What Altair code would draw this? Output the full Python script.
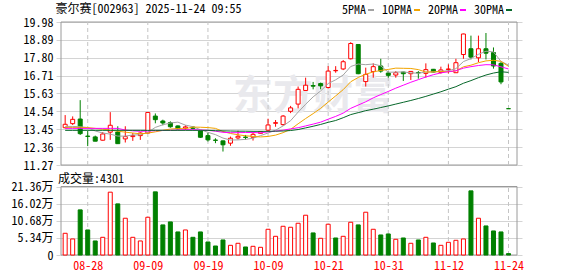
import json
import altair as alt
import pandas as pd

# ---------------- data ----------------
dates = ["08-25", "08-26", "08-27", "08-28", "08-29", "09-01", "09-02", "09-03", "09-04", "09-05",
         "09-08", "09-09", "09-10", "09-11", "09-12", "09-15", "09-16", "09-17", "09-18", "09-19",
         "09-22", "09-23", "09-24", "09-25", "09-26", "09-29", "09-30", "10-09", "10-10", "10-13",
         "10-14", "10-15", "10-16", "10-17", "10-20", "10-21", "10-22", "10-23", "10-24", "10-27",
         "10-28", "10-29", "10-30", "10-31", "11-03", "11-04", "11-05", "11-06", "11-07", "11-10",
         "11-11", "11-12", "11-13", "11-14", "11-17", "11-18", "11-19", "11-20", "11-21", "11-24"]

opens = [13.54, 13.79, 14.07, 13.03, 12.98, 12.78, 13.27, 13.28, 12.86, 13.00,
         13.06, 13.22, 14.25, 13.95, 13.85, 13.65, 13.52, 13.58, 13.34, 13.06,
         12.79, 12.74, 12.60, 12.92, 12.97, 12.96, 13.20, 13.39, 13.81, 13.73,
         14.54, 14.98, 15.81, 16.11, 16.23, 15.99, 17.01, 17.12, 17.74, 18.61,
         16.35, 16.96, 17.30, 16.87, 16.75, 16.93, 16.83, 16.90, 16.85, 17.10,
         16.91, 17.08, 16.89, 18.00, 18.35, 17.80, 18.35, 18.12, 17.46, 14.70]
highs = [14.31, 14.23, 15.22, 13.36, 13.06, 13.28, 14.49, 13.63, 13.63, 13.22,
         13.26, 14.47, 14.41, 14.03, 13.93, 13.68, 13.69, 13.64, 13.39, 13.24,
         12.90, 12.76, 13.00, 13.36, 13.10, 13.24, 13.34, 14.09, 14.01, 14.31,
         14.87, 16.05, 16.59, 16.33, 16.29, 17.29, 17.29, 17.66, 18.75, 18.63,
         17.20, 17.46, 17.74, 16.96, 16.99, 16.95, 16.99, 16.99, 17.46, 17.12,
         17.26, 17.40, 17.74, 19.27, 19.15, 19.15, 19.31, 18.43, 17.54, 14.70]
lows = [13.50, 13.71, 13.10, 12.42, 12.72, 12.76, 12.80, 12.55, 12.64, 12.74,
        12.80, 13.20, 13.81, 13.69, 13.54, 13.44, 13.39, 13.45, 12.92, 12.70,
        12.60, 12.09, 12.44, 12.82, 12.82, 12.76, 13.18, 13.33, 13.60, 13.66,
        14.43, 14.72, 15.81, 15.88, 15.88, 15.93, 16.89, 17.05, 17.70, 16.80,
        16.05, 16.59, 16.89, 16.59, 16.59, 16.39, 16.45, 16.53, 16.59, 16.91,
        16.83, 16.85, 16.89, 17.74, 17.70, 17.54, 17.70, 17.14, 16.19, 14.70]
closes = [13.75, 14.05, 13.18, 13.01, 12.72, 13.16, 13.69, 12.57, 13.00, 13.06,
          13.22, 14.47, 14.03, 13.83, 13.60, 13.47, 13.59, 13.50, 12.96, 12.80,
          12.77, 12.50, 12.90, 13.02, 12.95, 13.14, 13.30, 13.71, 13.85, 14.25,
          14.75, 15.88, 16.13, 16.07, 16.09, 16.99, 17.03, 17.56, 18.67, 16.83,
          16.79, 17.26, 16.99, 16.73, 16.89, 16.83, 16.97, 16.88, 17.08, 16.93,
          17.06, 17.12, 17.50, 19.25, 17.84, 18.35, 18.08, 17.30, 16.33, 14.70]

# volume in 万 (10k shares); r = red (up) bar, g = green (down) bar
volumes = [6.77, 5.00, 14.07, 7.81, 4.38, 5.52, 19.59, 15.94, 11.46, 5.52,
           4.38, 11.77, 19.69, 9.38, 10.31, 7.19, 7.81, 5.52, 7.19, 4.06,
           2.81, 4.69, 3.02, 3.65, 2.50, 2.71, 2.40, 8.02, 5.83, 8.96,
           8.65, 9.90, 12.40, 6.88, 5.21, 9.59, 5.31, 5.83, 10.21, 9.38,
           13.34, 8.02, 6.25, 6.56, 4.90, 5.31, 3.65, 4.69, 5.52, 3.75,
           3.02, 3.96, 4.58, 5.00, 20.00, 11.46, 9.06, 7.50, 7.19, 0.43]
vol_colors = list("rrgggrrgrr" "rrggggrggg" "ggrrgrrrrr" "rrrgrrgrrg" "rrggrgrgrg" "rrrrgrgggg")

ma5 = [13.62, 13.62, 13.60, 13.55, 13.34, 13.22, 13.15, 13.03, 13.03, 13.10,
       13.11, 13.26, 13.56, 13.72, 13.83, 13.88, 13.70, 13.60, 13.42, 13.26,
       13.12, 12.91, 12.79, 12.80, 12.83, 12.90, 13.06, 13.22, 13.39, 13.65,
       13.97, 14.49, 14.97, 15.42, 15.78, 16.23, 16.46, 16.75, 17.27, 17.42,
       17.38, 17.42, 17.31, 16.92, 16.93, 16.94, 16.88, 16.86, 16.93, 16.94,
       16.98, 17.01, 17.14, 17.57, 17.75, 18.01, 18.20, 18.16, 17.58, 17.35]
ma10 = [13.56, 13.56, 13.56, 13.55, 13.50, 13.45, 13.40, 13.33, 13.27, 13.22,
        13.17, 13.21, 13.29, 13.38, 13.46, 13.49, 13.48, 13.58, 13.57, 13.55,
        13.50, 13.31, 13.19, 13.11, 13.05, 13.01, 12.98, 13.01, 13.09, 13.24,
        13.44, 13.78, 14.10, 14.40, 14.72, 15.10, 15.48, 15.86, 16.34, 16.60,
        16.80, 16.94, 17.03, 17.09, 17.17, 17.16, 17.15, 17.08, 16.93, 16.94,
        16.96, 16.95, 17.00, 17.25, 17.35, 17.50, 17.61, 17.65, 17.58, 17.28]
ma20 = [13.50, 13.50, 13.50, 13.50, 13.50, 13.50, 13.50, 13.50, 13.40, 13.35,
        13.32, 13.34, 13.36, 13.37, 13.38, 13.40, 13.42, 13.42, 13.40, 13.38,
        13.33, 13.26, 13.24, 13.24, 13.25, 13.25, 13.23, 13.29, 13.33, 13.39,
        13.47, 13.54, 13.65, 13.76, 13.88, 14.06, 14.23, 14.43, 14.72, 14.92,
        15.12, 15.36, 15.56, 15.75, 15.95, 16.13, 16.31, 16.47, 16.63, 16.77,
        16.88, 16.95, 17.01, 17.17, 17.26, 17.33, 17.38, 17.37, 17.25, 17.12]
ma30 = [13.38, 13.38, 13.38, 13.38, 13.38, 13.38, 13.38, 13.38, 13.38, 13.38,
        13.38, 13.38, 13.38, 13.38, 13.38, 13.38, 13.38, 13.38, 13.38, 13.38,
        13.36, 13.35, 13.34, 13.33, 13.33, 13.32, 13.32, 13.32, 13.33, 13.34,
        13.37, 13.43, 13.53, 13.63, 13.74, 13.87, 13.98, 14.15, 14.34, 14.46,
        14.58, 14.67, 14.77, 14.87, 14.98, 15.09, 15.20, 15.32, 15.45, 15.59,
        15.73, 15.89, 16.04, 16.25, 16.41, 16.59, 16.75, 16.87, 16.95, 16.91]

ma_names = ["5PMA", "10PMA", "20PMA", "30PMA"]
ma_colors = ["#a3a3a3", "#f2a400", "#ff00ff", "#07672a"]

label_dates = ["08-28", "09-09", "09-19", "10-09", "10-21", "10-31", "11-12", "11-24"]
price_ticks = [11.27, 12.36, 13.45, 14.54, 15.63, 16.71, 17.80, 18.89, 19.98]
vol_ticks = [0, 5.34, 10.68, 16.02, 21.36]

TITLE = "豪尔赛[002963] 2025-11-24 09:55"
VOL_TITLE = "成交量:4301"
WATERMARK = "东方财富"

# ---------------- layout / style constants ----------------
FONT = "Noto Sans Mono CJK SC, Noto Sans CJK SC, monospace"
X_LO, X_HI = -0.555, 60.13
P_LO, P_HI = 11.27, 19.98
V_LO, V_HI = 0, 21.36
W, H = 466, 233
PRICE_RANGE = [143, 0]
VOL_RANGE = [233, 164.5]
RED, GREEN = "#ff0000", "#008000"
FRAME = "#9a9a9a"
GRID = "#d4d4d4"

# ---------------- tables ----------------
idx = list(range(len(dates)))
candles = pd.DataFrame({"idx": idx, "date": dates, "open": opens, "high": highs,
                        "low": lows, "close": closes})
candles["dir"] = ["up" if c > o else "down" for o, c in zip(opens, closes)]

vol_df = pd.DataFrame({"idx": idx, "vol": volumes, "base": 0,
                       "dir": ["up" if v == "r" else "down" for v in vol_colors]})

ma_df = pd.DataFrame({"idx": idx, "5PMA": ma5, "10PMA": ma10, "20PMA": ma20, "30PMA": ma30})
ma_long = ma_df.melt(id_vars="idx", var_name="ma", value_name="value")

label_idx = [dates.index(d) for d in label_dates]
grid_p = pd.DataFrame({"idx": label_idx, "lo": P_LO, "hi": P_HI})
grid_v = pd.DataFrame({"idx": label_idx, "lo": V_LO, "hi": V_HI})
frame_p = pd.DataFrame({"x0": [X_LO], "x1": [X_HI], "y0": [P_LO], "y1": [P_HI]})
frame_v = pd.DataFrame({"x0": [X_LO], "x1": [X_HI], "y0": [V_LO], "y1": [V_HI]})

# ---------------- scales & axes ----------------
x_scale = alt.Scale(domain=[X_LO, X_HI], nice=False, zero=False)
x_axis = alt.Axis(orient="bottom", values=label_idx,
                  labelExpr=json.dumps(dates) + "[datum.value]",
                  grid=False, ticks=False, domain=False, title=None,
                  labelColor=RED, labelFont=FONT, labelFontSize=12, labelPadding=5,
                  labelFlush=False, labelOverlap=False)

p_scale = alt.Scale(domain=[P_LO, P_HI], range=PRICE_RANGE, nice=False, zero=False)
p_axis = alt.Axis(orient="left", values=price_ticks, format=".2f",
                  grid=True, gridColor=GRID, ticks=False, domain=False,
                  labelFont=FONT, labelFontSize=12, labelColor="#000", labelPadding=3,
                  labelOverlap=False,
                  title=TITLE, titleAngle=0, titleX=-1, titleY=-13.5, titleAlign="left",
                  titleBaseline="middle", titleFont=FONT, titleFontSize=12,
                  titleFontWeight="normal", titleColor="#000")

v_scale = alt.Scale(domain=[V_LO, V_HI], range=VOL_RANGE, nice=False, zero=False)
v_axis = alt.Axis(orient="left", values=vol_ticks,
                  labelExpr="datum.value == 0 ? '0' : format(datum.value, '.2f') + '万'",
                  grid=True, gridColor=GRID, ticks=False, domain=False,
                  labelFont=FONT, labelFontSize=12, labelColor="#000", labelPadding=3,
                  labelOverlap=False,
                  title=VOL_TITLE, titleAngle=0, titleX=1.5, titleY=156, titleAlign="left",
                  titleBaseline="middle", titleFont=FONT, titleFontSize=12,
                  titleFontWeight="normal", titleColor="#000")

dir_stroke = alt.Stroke("dir:N", scale=alt.Scale(domain=["up", "down"], range=[RED, GREEN]), legend=None)
dir_fill = alt.Fill("dir:N", scale=alt.Scale(domain=["up", "down"], range=["#ffffff", GREEN]), legend=None)


def X(field):
    return alt.X(field, scale=x_scale, axis=x_axis)


def PY(field):
    return alt.Y(field, scale=p_scale, axis=p_axis)


def VY(field):
    return alt.Y(field, scale=v_scale, axis=v_axis)


# ---------------- price panel ----------------
wm = alt.Chart(alt.Data(values=[{"t": WATERMARK}])).mark_text(
    font="Noto Sans CJK SC", fontSize=40, fontWeight="bold", color="#e9e9ed",
    align="center", baseline="middle"
).encode(x=alt.value(257), y=alt.value(75), text="t:N")

frame_price = alt.Chart(frame_p).mark_rect(fill="transparent", stroke=FRAME, strokeWidth=1).encode(
    x=X("x0:Q"), x2="x1:Q", y=PY("y0:Q"), y2="y1:Q")

xgrid_price = alt.Chart(grid_p).mark_rule(color="#c4c4c4", strokeDash=[4, 3], strokeWidth=1).encode(
    x=X("idx:Q"), y=PY("lo:Q"), y2="hi:Q")

wicks = alt.Chart(candles).mark_rule(strokeWidth=1).encode(
    x=X("idx:Q"), y=PY("low:Q"), y2="high:Q", stroke=dir_stroke)

bodies = alt.Chart(candles).mark_bar(size=4, strokeWidth=1).encode(
    x=X("idx:Q"), y=PY("open:Q"), y2="close:Q", fill=dir_fill, stroke=dir_stroke)

ma_lines = alt.Chart(ma_long).mark_line(strokeWidth=1).encode(
    x=X("idx:Q"), y=PY("value:Q"),
    color=alt.Color("ma:N", sort=ma_names,
                    scale=alt.Scale(domain=ma_names, range=ma_colors),
                    legend=alt.Legend(orient="none", legendX=309, legendY=-18,
                                      direction="horizontal", title=None,
                                      symbolType="stroke", symbolSize=36, symbolStrokeWidth=2,
                                      labelAlign="right", labelOffset={"expr": "-11"},
                                      labelFont=FONT, labelFontSize=12, labelColor="#000",
                                      columnPadding=3, padding=0, rowPadding=0)),
    detail="ma:N")

price = alt.layer(wm, frame_price, xgrid_price, wicks, bodies, ma_lines)

# ---------------- volume panel ----------------
frame_volume = alt.Chart(frame_v).mark_rect(fill="transparent", stroke=FRAME, strokeWidth=1).encode(
    x=X("x0:Q"), x2="x1:Q", y=VY("y0:Q"), y2="y1:Q")

xgrid_volume = alt.Chart(grid_v).mark_rule(color="#c4c4c4", strokeDash=[4, 3], strokeWidth=1).encode(
    x=X("idx:Q"), y=VY("lo:Q"), y2="hi:Q")

vbars = alt.Chart(vol_df).mark_bar(size=4, strokeWidth=1).encode(
    x=X("idx:Q"), y=VY("vol:Q"), y2="base:Q", fill=dir_fill, stroke=dir_stroke)

volume = alt.layer(frame_volume, xgrid_volume, vbars)

chart = alt.layer(price, volume).resolve_scale(y="independent").properties(
    width=W, height=H,
    autosize=alt.AutoSizeParams(type="none"),
    padding={"left": 56, "top": 22, "right": 56, "bottom": 21},
    background="#ffffff",
).configure_view(strokeWidth=0)

chart.save("out.html", embed_options={"renderer": "svg", "actions": False})
